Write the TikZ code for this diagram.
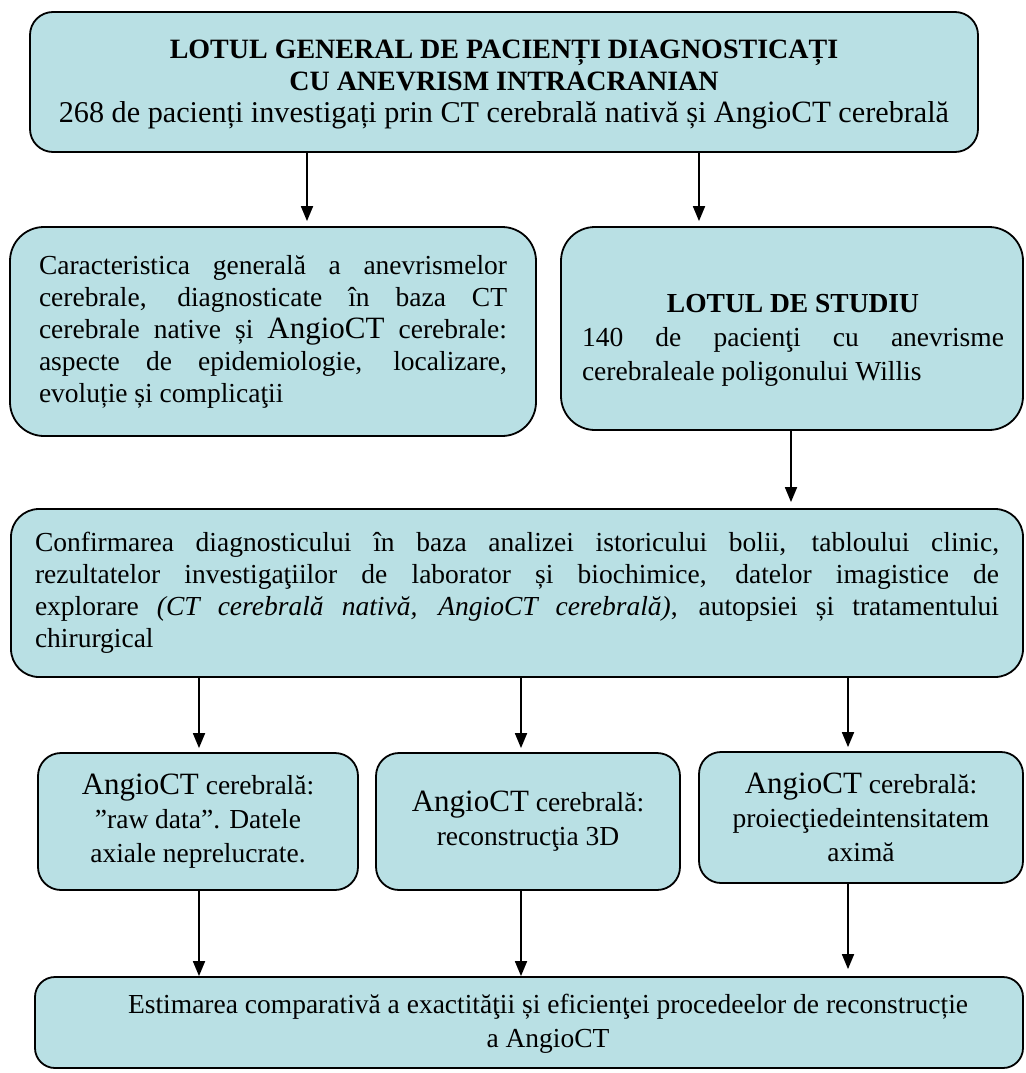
\documentclass[tikz,border=0pt]{standalone}
\usepackage{fontspec}
\setmainfont{Liberation Serif}
\usetikzlibrary{arrows.meta}
\definecolor{boxfill}{RGB}{185,224,228}
\newcommand\AG{{\fontsize{31}{32}\selectfont AngioCT}}
\newcommand\jl[2]{\makebox[#1][s]{#2}}
\begin{document}
\begin{tikzpicture}[x=1pt,y=-1pt,
  box/.style={draw=black, line width=1.8pt, fill=boxfill, inner sep=0pt,
    font=\fontsize{27.5}{32}\selectfont},
  txt/.style={inner sep=0pt, font=\fontsize{27.5}{32}\selectfont},
  arr/.style={line width=1.8pt, -{Triangle[length=15pt,width=12pt]}}]
\useasboundingbox (0,0) rectangle (1025,1073);

\node[box, rounded corners=23pt, minimum width=948pt, minimum height=140pt] (b1) at (504,82) {};
\node[txt, align=center] (b1t) at (504,85)
 {{\fontsize{28}{35}\selectfont\bfseries LOTUL GENERAL DE PACIENȚI DIAGNOSTICAȚI}\\
  {\fontsize{28}{35}\selectfont\bfseries CU ANEVRISM INTRACRANIAN}\\
  {\fontsize{30.2}{35}\selectfont 268 de pacienți investigați prin CT cerebrală nativă și \AG{} cerebrală}};

\node[box, rounded corners=34pt, minimum width=526pt, minimum height=209pt, align=left] (b2) at (273,331.5)
 {\jl{468pt}{Caracteristica generală a anevrismelor}\\
  \jl{468pt}{cerebrale, diagnosticate în baza CT}\\
  \jl{468pt}{cerebrale native și \AG{} cerebrale:}\\
  \jl{468pt}{aspecte de epidemiologie, localizare,}\\
  evoluție și complicaţii};

\node[box, minimum width=462pt, minimum height=203pt, rounded corners=34pt] (b3) at (792,328.5) {};
\node[txt, align=left, font=\fontsize{27.5}{34}\selectfont] (b3t) at (793,340)
 {\makebox[422pt][c]{\bfseries LOTUL DE STUDIU}\\
  \jl{422pt}{140 de pacienţi cu anevrisme}\\
  cerebraleale poligonului Willis};

\node[box, rounded corners=28pt, minimum width=1012pt, minimum height=168pt, align=left] (b4) at (517,593)
 {\jl{964pt}{Confirmarea diagnosticului în baza analizei istoricului bolii, tabloului clinic,}\\
  \jl{964pt}{rezultatelor investigaţiilor de laborator și biochimice, datelor imagistice de}\\
  \jl{964pt}{explorare \textit{(CT cerebrală nativă, AngioCT cerebrală)}, autopsiei și tratamentului}\\
  chirurgical};

\node[box, rounded corners=23pt, minimum width=320pt, minimum height=137pt, align=center,
  font=\fontsize{27.5}{34}\selectfont] (ba) at (198,821.5)
 {\AG{} cerebrală:\\”raw data”. Datele\\axiale neprelucrate.};
\node[box, rounded corners=23pt, minimum width=304pt, minimum height=137pt, align=center,
  font=\fontsize{27.5}{34}\selectfont] (bb) at (528,821.5)
 {\AG{} cerebrală:\\reconstrucţia 3D};
\node[box, rounded corners=22pt, minimum width=324pt, minimum height=131pt, align=center,
  font=\fontsize{27.5}{34}\selectfont] (bc) at (861,817.5)
 {\AG{} cerebrală:\\proiecţiedeintensitatem\\aximă};
\node[box, rounded corners=20pt, minimum width=988pt, minimum height=91pt] (b5) at (529,1022.5) {};
\node[txt, align=center, font=\fontsize{27.5}{34}\selectfont] (b5t) at (548,1024)
 {Estimarea comparativă a exactităţii și eficienţei procedeelor de reconstrucție\\a AngioCT};

\coordinate (xa) at (307,0);
\coordinate (xb) at (699,0);
\coordinate (xc) at (791,0);
\coordinate (xd) at (199,0);
\coordinate (xe) at (521,0);
\coordinate (xf) at (848,0);

\draw[arr, shorten >=5pt] (b1.south -| xa) -- (b2.north -| xa);
\draw[arr, shorten >=5pt] (b1.south -| xb) -- (b3.north -| xb);
\draw[arr, shorten >=6pt] (b3.south -| xc) -- (b4.north -| xc);
\draw[arr, shorten >=4pt] (b4.south -| xd) -- (ba.north -| xd);
\draw[arr, shorten >=4pt] (b4.south -| xe) -- (bb.north -| xe);
\draw[arr, shorten >=4pt] (b4.south -| xf) -- (bc.north -| xf);
\draw[arr] (ba.south -| xd) -- (b5.north -| xd);
\draw[arr] (bb.south -| xe) -- (b5.north -| xe);
\draw[arr, shorten >=7pt] (bc.south -| xf) -- (b5.north -| xf);
\end{tikzpicture}
\end{document}
